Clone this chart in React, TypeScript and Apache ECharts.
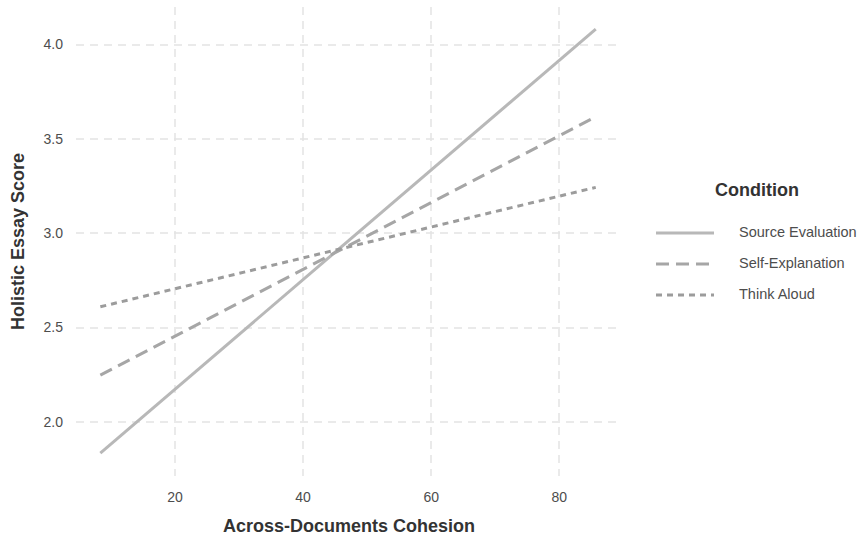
import React, { useEffect, useRef } from "react";
import * as echarts from "echarts";

const conditions = ["Source Evaluation", "Self-Explanation", "Think Aloud"];
const xRange = [8.34, 85.7];
const sourceEvaluation = [1.833, 4.081];
const selfExplanation = [2.247, 3.616];
const thinkAloud = [2.609, 3.242];
const xTicks = [20, 40, 60, 80];
const yTicks = [2.0, 2.5, 3.0, 3.5, 4.0];

const colors = ["#b8b8b8", "#a6a6a6", "#9c9c9c"];
const dashes: (number[] | "solid")[] = ["solid", [13, 7], [6, 5]];
const FONT = "'Liberation Sans', Arial, Helvetica, sans-serif";

export default function App() {
  const ref = useRef<HTMLDivElement>(null);
  useEffect(() => {
    if (!ref.current) return;
    const chart = echarts.init(ref.current, undefined, { renderer: "svg" });
    const values = [sourceEvaluation, selfExplanation, thinkAloud];
    const series = conditions.map((name, i) => ({
      name,
      type: "line",
      data: xRange.map((x, j) => [x, values[i][j]]),
      showSymbol: false,
      lineStyle: { color: colors[i], width: 3, type: dashes[i], cap: "butt" },
      z: 3 + i,
    }));
    const legendGraphics: any[] = [
      {
        type: "text",
        left: 715,
        top: 181,
        style: { text: "Condition", font: `bold 18px ${FONT}`, fill: "#333333" },
      },
    ];
    const legendYs = [233, 264, 295];
    conditions.forEach((name, i) => {
      legendGraphics.push({
        type: "line",
        shape: { x1: 656, y1: legendYs[i], x2: 714, y2: legendYs[i] },
        style: {
          stroke: colors[i],
          lineWidth: 3,
          lineDash: dashes[i] === "solid" ? null : dashes[i],
        },
      });
      legendGraphics.push({
        type: "text",
        left: 739,
        top: legendYs[i] - 9,
        style: { text: name, font: `14.5px ${FONT}`, fill: "#4d4d4d" },
      });
    });
    chart.setOption({
      animation: false,
      grid: { left: 76, right: 238, top: 7, bottom: 59, outerBoundsMode: "none", containLabel: false },
      xAxis: {
        type: "value",
        min: 4.54,
        max: 89.8,
        name: "Across-Documents Cohesion",
        nameLocation: "middle",
        nameGap: 41,
        nameTextStyle: { fontFamily: FONT, fontSize: 18, fontWeight: "bold", color: "#333333" },
        axisLine: { show: false },
        axisTick: { show: false, customValues: xTicks },
        axisLabel: { customValues: xTicks, fontFamily: FONT, fontSize: 14, color: "#4d4d4d", margin: 14 },
        splitLine: { show: true, lineStyle: { color: "#e3e3e3", width: 1.5, type: [8, 6] } },
      },
      yAxis: {
        type: "value",
        min: 1.712,
        max: 4.198,
        name: "Holistic Essay Score",
        nameLocation: "middle",
        nameGap: 49,
        nameTextStyle: { fontFamily: FONT, fontSize: 18, fontWeight: "bold", color: "#333333" },
        axisLine: { show: false },
        axisTick: { show: false, customValues: yTicks },
        axisLabel: {
          customValues: yTicks,
          fontFamily: FONT,
          fontSize: 14,
          color: "#4d4d4d",
          margin: 13,
          formatter: (v: number) => v.toFixed(1),
        },
        splitLine: { show: true, lineStyle: { color: "#e3e3e3", width: 1.5, type: [8, 6] } },
      },
      series,
      graphic: legendGraphics,
    });
    return () => chart.dispose();
  }, []);
  return <div ref={ref} style={{ width: 860, height: 535, position: "absolute", left: 0, top: 0 }} />;
}
